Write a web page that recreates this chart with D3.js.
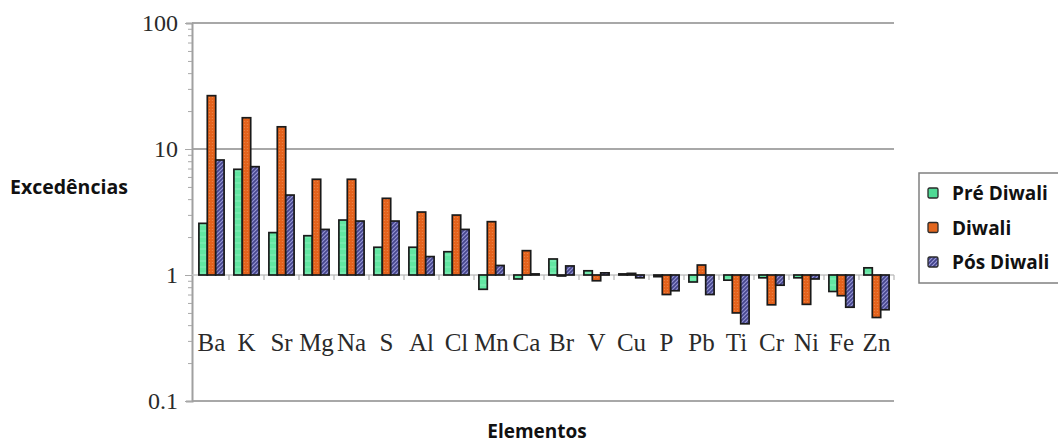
<!DOCTYPE html>
<html>
<head>
<meta charset="utf-8">
<script src="https://cdn.jsdelivr.net/npm/d3@7"></script>
<style>
  body { margin: 0; background: #fff; }
</style>
</head>
<body>
<div id="chart"></div>
<script>
const elements = ["Ba","K","Sr","Mg","Na","S","Al","Cl","Mn","Ca","Br","V","Cu","P","Pb","Ti","Cr","Ni","Fe","Zn"];
const preDiwali = [2.57, 6.9, 2.17, 2.05, 2.73, 1.66, 1.66, 1.53, 0.77, 0.93, 1.34, 1.08, 1.02, 0.97, 0.88, 0.91, 0.95, 0.95, 0.74, 1.14];
const diwali    = [26.5, 17.7, 15.0, 5.75, 5.75, 4.06, 3.16, 2.99, 2.65, 1.56, 0.99, 0.90, 1.03, 0.70, 1.20, 0.50, 0.58, 0.585, 0.685, 0.46];
const posDiwali = [8.18, 7.24, 4.31, 2.30, 2.68, 2.68, 1.40, 2.30, 1.19, 1.02, 1.18, 1.04, 0.95, 0.75, 0.70, 0.41, 0.83, 0.93, 0.555, 0.53];
const seriesNames = ["Pré Diwali", "Diwali", "Pós Diwali"];
const yTickValues = [0.1, 1, 10, 100];

const width = 1058, height = 443;
const margin = {top: 23, left: 192, right: 164, bottom: 42};
const plotRight = width - margin.right;   // 894
const plotBottom = height - margin.bottom; // 401

const svg = d3.select("#chart").append("svg")
  .attr("width", width)
  .attr("height", height);

// patterns for the bar fills
const defs = svg.append("defs");
const pBlue = defs.append("pattern")
  .attr("id", "hatchBlue")
  .attr("patternUnits", "userSpaceOnUse")
  .attr("width", 4).attr("height", 4);
pBlue.append("rect").attr("width", 4).attr("height", 4).attr("fill", "#42428a");
pBlue.append("path").attr("d", "M0,4 L4,0 M-1,1 L1,-1 M3,5 L5,3")
  .attr("stroke", "#9c9cd8").attr("stroke-width", 1.1);

const pGreen = defs.append("pattern")
  .attr("id", "hatchGreen")
  .attr("patternUnits", "userSpaceOnUse")
  .attr("width", 4).attr("height", 6);
pGreen.append("rect").attr("width", 4).attr("height", 6).attr("fill", "#62e6a2");
pGreen.append("path").attr("d", "M0,3 L4,3").attr("stroke", "#86efbb").attr("stroke-width", 1);

const pOrange = defs.append("pattern")
  .attr("id", "dotOrange")
  .attr("patternUnits", "userSpaceOnUse")
  .attr("width", 3).attr("height", 3);
pOrange.append("rect").attr("width", 3).attr("height", 3).attr("fill", "#e4621c");
pOrange.append("circle").attr("cx", 1.5).attr("cy", 1.5).attr("r", 0.6).attr("fill", "#ee8a4e");

const fills = ["url(#hatchGreen)", "url(#dotOrange)", "url(#hatchBlue)"];
const legendFills = ["#4fd994", "#e2661e", "url(#hatchBlue)"];

// scales
const x = d3.scaleBand()
  .domain(elements)
  .range([194, 894])
  .paddingInner(0.28)
  .paddingOuter(0.14);

const xSub = d3.scaleBand()
  .domain(d3.range(3))
  .range([0, x.bandwidth()]);

const y = d3.scaleLog()
  .domain([0.1, 100])
  .range([plotBottom, margin.top]);

// grid lines at 100, 10 and 0.1
svg.append("g")
  .selectAll("line")
  .data([0.1, 10, 100])
  .join("line")
  .attr("x1", margin.left)
  .attr("x2", plotRight)
  .attr("y1", d => y(d))
  .attr("y2", d => y(d))
  .attr("stroke", "#a8a8a8")
  .attr("stroke-width", 2);

// y axis
const yAxis = d3.axisLeft(y)
  .tickValues(y.ticks())
  .tickSize(6)
  .tickFormat(d => yTickValues.includes(d) ? String(d) : "");

const yg = svg.append("g")
  .attr("transform", `translate(${margin.left},0)`)
  .call(yAxis);
yg.select(".domain").attr("stroke", "#a0a0a0").attr("stroke-width", 2);
yg.selectAll(".tick line")
  .attr("stroke", "#a8a8a8")
  .attr("x2", d => yTickValues.includes(d) ? -7 : -4);
yg.selectAll(".tick text")
  .attr("x", -14)
  .attr("fill", "#2a2a2a")
  .attr("font-family", "Liberation Serif, serif")
  .attr("font-size", 24);

// baseline at 1 with category ticks
const base = svg.append("g");
base.append("line")
  .attr("x1", margin.left)
  .attr("x2", plotRight)
  .attr("y1", y(1))
  .attr("y2", y(1))
  .attr("stroke", "#c4c4c4")
  .attr("stroke-width", 1.5);
base.selectAll(".ctick")
  .data(elements)
  .join("line")
  .attr("class", "ctick")
  .attr("x1", d => x(d) + x.bandwidth() + x.step() * 0.14)
  .attr("x2", d => x(d) + x.bandwidth() + x.step() * 0.14)
  .attr("y1", y(1))
  .attr("y2", y(1) + 5)
  .attr("stroke", "#b8b8b8")
  .attr("stroke-width", 1.2);

// bars, from 1 up or down
const rows = elements.map((e, i) => ({
  element: e,
  values: [preDiwali[i], diwali[i], posDiwali[i]]
}));

const groups = svg.append("g")
  .selectAll("g")
  .data(rows)
  .join("g")
  .attr("transform", d => `translate(${x(d.element)},0)`);

groups.selectAll("rect")
  .data(d => d.values.map((v, k) => ({v, k})))
  .join("rect")
  .attr("x", d => xSub(d.k))
  .attr("width", xSub.bandwidth())
  .attr("y", d => Math.min(y(d.v), y(1)))
  .attr("height", d => Math.max(1, Math.abs(y(d.v) - y(1))))
  .attr("fill", d => fills[d.k])
  .attr("stroke", "#1a1a1a")
  .attr("stroke-width", 1.7);

// category labels
svg.append("g")
  .selectAll("text")
  .data(elements)
  .join("text")
  .attr("x", d => x(d) + x.bandwidth() / 2)
  .attr("y", 351)
  .attr("text-anchor", "middle")
  .attr("fill", "#2a2a2a")
  .attr("font-family", "Liberation Serif, serif")
  .attr("font-size", 25)
  .text(d => d);

// axis titles
svg.append("text")
  .attr("x", 10)
  .attr("y", 194)
  .attr("font-family", "Open Sans, sans-serif")
  .attr("font-weight", "bold")
  .attr("font-size", 19.5)
  .attr("fill", "#111")
  .text("Excedências");

svg.append("text")
  .attr("x", 537)
  .attr("y", 438)
  .attr("text-anchor", "middle")
  .attr("font-family", "Open Sans, sans-serif")
  .attr("font-weight", "bold")
  .attr("font-size", 19)
  .attr("fill", "#111")
  .text("Elementos");

// legend
const legend = svg.append("g");
legend.append("rect")
  .attr("x", 919)
  .attr("y", 173)
  .attr("width", 150)
  .attr("height", 110)
  .attr("fill", "#fff")
  .attr("stroke", "#808080")
  .attr("stroke-width", 1.5);

const items = legend.selectAll(".item")
  .data(seriesNames)
  .join("g")
  .attr("class", "item")
  .attr("transform", (d, i) => `translate(928,${193 + i * 34.5})`);

items.append("rect")
  .attr("x", 0)
  .attr("y", -5)
  .attr("width", 10)
  .attr("height", 10)
  .attr("rx", 1.5)
  .attr("fill", (d, i) => legendFills[i])
  .attr("stroke", "#2a2a2a")
  .attr("stroke-width", 1.3);

items.append("text")
  .attr("x", 24)
  .attr("y", 7)
  .attr("font-family", "Open Sans, sans-serif")
  .attr("font-weight", "bold")
  .attr("font-size", 19)
  .attr("fill", "#111")
  .text(d => d);
</script>
</body>
</html>
